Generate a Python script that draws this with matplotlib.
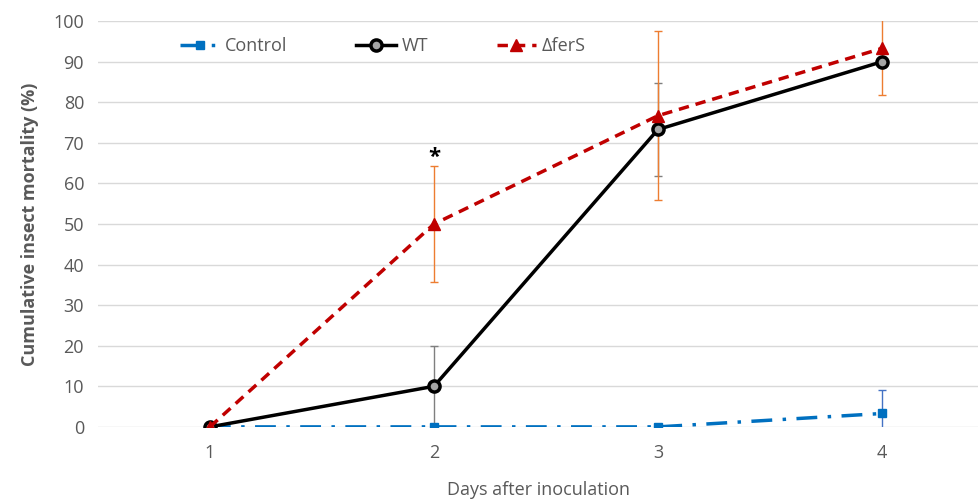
import matplotlib.pyplot as plt
import numpy as np

# Data
days = [1, 2, 3, 4]
control = [0, 0, 0, 3.3]
control_err = [0, 0, 0, 5.8]
wt = [0, 10, 73.3, 90]
wt_err = [0, 10, 11.5, 0]
fers = [0, 50, 76.7, 93.3]
fers_err = [0, 14.2, 20.8, 11.5]

plt.rcParams['font.family'] = ['Open Sans', 'DejaVu Sans']
grey = '#595959'

fig = plt.figure(figsize=(9.79, 5.04), dpi=100)
ax = fig.add_axes([0.1, 0.153, 0.9, 0.805])

# error bars first so lines sit on top
ax.errorbar(days, control, yerr=control_err, fmt='none', ecolor='#4472C4',
            elinewidth=1, capsize=3, zorder=2)
ax.errorbar(days, wt, yerr=wt_err, fmt='none', ecolor='#7F7F7F',
            elinewidth=1, capsize=3, zorder=2)
ax.errorbar(days, fers, yerr=fers_err, fmt='none', ecolor='#ED7D31',
            elinewidth=1, capsize=3, zorder=2)

ax.plot(days, control, color='#0070C0', linestyle=(0, (6, 3, 1, 3)), linewidth=2.5,
        marker='s', markersize=6, label='Control', zorder=3)
ax.plot(days, wt, color='black', linestyle='-', linewidth=2.5,
        marker='o', markersize=8, markerfacecolor='#A5A5A5', markeredgewidth=2.5,
        label='WT', zorder=4)
ax.plot(days, fers, color='#C00000', linestyle=(0, (3, 2)), linewidth=2.5,
        marker='^', markersize=9, label='\u0394ferS', zorder=5)

ax.text(2, 66.5, '*', ha='center', va='center', fontsize=16, fontweight='bold')

ax.set_xlim(0.5, 4.433)
ax.set_ylim(0, 100)
ax.set_xticks(days)
ax.set_yticks(np.arange(0, 101, 10))
ax.grid(axis='y', color='#D9D9D9', linewidth=1)
ax.set_axisbelow(True)
for s in ax.spines.values():
    s.set_visible(False)
ax.tick_params(length=0, labelsize=13, colors=grey, pad=10)
ax.tick_params(axis='x', pad=12)

ax.set_xlabel('Days after inoculation', fontsize=13, color=grey, labelpad=14)
ax.set_ylabel('Cumulative insect mortality (%)', fontsize=13, color=grey,
              fontweight='bold', labelpad=10)

ax.legend(loc='upper left', bbox_to_anchor=(0.075, 1.0), ncol=3, frameon=False,
          fontsize=13, labelcolor=grey, columnspacing=3.8, handlelength=2.2,
          handletextpad=0.3)

fig.savefig('out.png', dpi=100)
